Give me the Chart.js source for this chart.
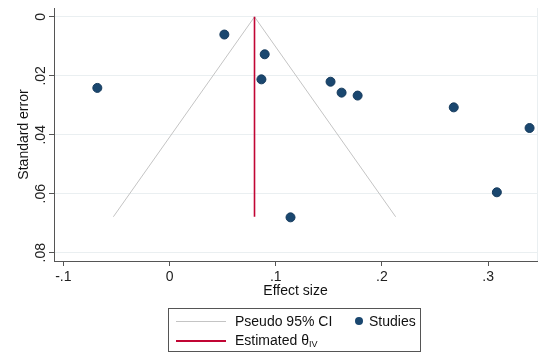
<!DOCTYPE html>
<html>
<head>
<meta charset="utf-8">
<script src="https://cdn.jsdelivr.net/npm/chart.js@4.4.0/dist/chart.umd.min.js"></script>
<style>
body{margin:0;background:#fff;font-family:"Liberation Sans",Arial,sans-serif}
#wrap{position:relative;width:550px;height:360px}
#legend{position:absolute;left:168px;top:308px;width:253px;height:44px;border:1px solid #555;box-sizing:border-box;font-size:14px;color:#111}
#legend .ln{position:absolute;left:7px;width:50px;height:0}
#legend .tx{position:absolute;line-height:16px}
#legend .dot{position:absolute;width:8px;height:8px;border-radius:50%;background:#1a476f}
sub{font-size:9px;vertical-align:-2px}
</style>
</head>
<body>
<div id="wrap">
<canvas id="c" width="550" height="360"></canvas>
<div id="legend">
  <div class="ln" style="top:12px;border-top:1px solid #c4c4c4"></div>
  <div class="tx" style="left:66px;top:4px">Pseudo 95% CI</div>
  <div class="dot" style="left:186px;top:8px"></div>
  <div class="tx" style="left:200px;top:4px">Studies</div>
  <div class="ln" style="top:31px;border-top:2px solid #c10534"></div>
  <div class="tx" style="left:66px;top:23px">Estimated θ<sub>IV</sub></div>
</div>
</div>
<script>
// studies
const effect = [-0.068, 0.0516, 0.0896, 0.0865, 0.1516, 0.162, 0.1771, 0.2676, 0.339, 0.3082, 0.1139];
const stdErr = [0.0241, 0.0060, 0.0127, 0.0212, 0.0220, 0.0257, 0.0267, 0.0307, 0.0377, 0.0595, 0.0680];
// pseudo 95% CI funnel and estimated effect line
const ciX = [-0.0529, 0.08, 0.2129];
const ciY = [0.0678, 0, 0.0678];
const thetaX = [0.08, 0.08];
const thetaY = [0, 0.0678];
// axes
const xTicks = [-0.1, 0, 0.1, 0.2, 0.3];
const xTickLabels = ['-.1', '0', '.1', '.2', '.3'];
const yTicks = [0, 0.02, 0.04, 0.06, 0.08];
const yTickLabels = ['0', '.02', '.04', '.06', '.08'];

const fam = '"Liberation Sans", Arial, sans-serif';
const toPts = (xs, ys) => xs.map((x, i) => ({x, y: ys[i]}));

const rightEdge = {
  id: 'rightEdge',
  beforeDatasetsDraw(ch){
    const a = ch.chartArea, c = ch.ctx;
    c.save(); c.strokeStyle = '#eaeff1'; c.lineWidth = 1;
    c.beginPath(); c.moveTo(a.right + 0.5, a.top); c.lineTo(a.right + 0.5, a.bottom); c.stroke();
    c.restore();
  }
};

new Chart(document.getElementById('c').getContext('2d'), {
  type: 'scatter',
  data: { datasets: [
    { label: 'Studies', data: toPts(effect, stdErr), order: 0,
      pointRadius: 4.5, pointBackgroundColor: '#1a476f', pointBorderColor: '#153a5c', pointBorderWidth: 1 },
    { label: 'Pseudo 95% CI', data: toPts(ciX, ciY), order: 2, showLine: true,
      borderColor: '#c4c4c4', borderWidth: 1, pointRadius: 0, fill: false },
    { label: 'Estimated θIV', data: toPts(thetaX, thetaY), order: 1, showLine: true,
      borderColor: '#c10534', borderWidth: 1.6, pointRadius: 0, fill: false }
  ]},
  options: {
    responsive: false, animation: false,
    layout: { padding: { left: 0, right: 13, top: 8, bottom: 60 } },
    plugins: { legend: { display: false }, tooltip: { enabled: false } },
    scales: {
      x: {
        type: 'linear', min: -0.1088, max: 0.346,
        afterBuildTicks: s => { s.ticks = xTicks.map(v => ({value: v})); },
        afterFit: s => { s.height = 39; },
        ticks: { callback: (v, i) => xTickLabels[i], font: {size: 14, family: fam}, color: '#222', padding: 3, maxRotation: 0, autoSkip: false },
        grid: { drawOnChartArea: false, tickLength: 5, tickColor: '#555' },
        border: { color: '#555', width: 1 },
        title: { display: true, text: 'Effect size', font: {size: 14, family: fam}, color: '#111', padding: {top: 0, bottom: 0} }
      },
      y: {
        type: 'linear', min: -0.003, max: 0.0828, reverse: true,
        afterBuildTicks: s => { s.ticks = yTicks.map(v => ({value: v})); },
        afterFit: s => { s.width = 54; },
        ticks: { callback: (v, i) => yTickLabels[i], font: {size: 14, family: fam}, color: '#222', padding: -2, minRotation: 90, maxRotation: 90, crossAlign: 'center', autoSkip: false },
        grid: { color: '#eaeff1', tickLength: 5, tickColor: '#555' },
        border: { color: '#555', width: 1 },
        title: { display: true, text: 'Standard error', font: {size: 14, family: fam}, color: '#111', padding: {top: 16, bottom: 0} }
      }
    }
  },
  plugins: [rightEdge]
});
</script>
</body>
</html>
